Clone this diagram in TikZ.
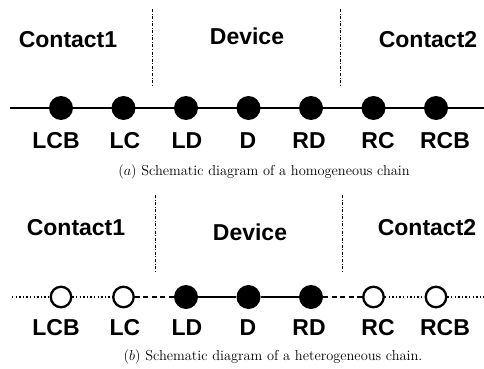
\documentclass[tikz,border=0pt]{standalone}
\usepackage{fontspec}
\setsansfont{Liberation Sans}
\begin{document}
\begin{tikzpicture}[x=1pt,y=-1pt,
  fullnode/.style={circle,fill=black,minimum size=24pt,inner sep=0pt},
  opennode/.style={circle,draw=black,fill=white,line width=2.3pt,minimum size=20.5pt,inner sep=0pt},
  lbl/.style={font=\sffamily\bfseries\fontsize{23}{27}\selectfont,inner sep=0pt},
  region/.style={font=\sffamily\bfseries\fontsize{23}{27}\selectfont,inner sep=0pt},
  captext/.style={font=\fontsize{14.4}{17}\selectfont,inner sep=0pt},
  bond/.style={line width=2.4pt},
  dashbond/.style={line width=2.4pt,dash pattern=on 5pt off 3.5pt},
  dotbond/.style={line width=1.4pt,dash pattern=on 1.4pt off 2.2pt},
  divider/.style={line width=0.9pt,dash pattern=on 3pt off 1.6pt on 0.9pt off 1.6pt}]
\useasboundingbox (0,0) rectangle (484,369);
% ---------- (a) homogeneous chain ----------
\coordinate (aL) at (10,108);
\coordinate (aR) at (484,108);
\draw[bond] (aL) -- (aR);
\foreach \n/\x in {1/61,2/123.5,3/186,4/248.5,5/311,6/373.5,7/436}
  \node[fullnode] (a\n) at (\x,108) {};
\coordinate (av1t) at (152,9); \coordinate (av1b) at (152,87);
\coordinate (av2t) at (340,9); \coordinate (av2b) at (340,87);
\draw[divider] (av1t) -- (av1b);
\draw[divider] (av2t) -- (av2b);
\node[region] (ac1) at (68,40) {Contact1};
\node[region] (adev) at (247,36) {Device};
\node[region] (ac2) at (428,40) {Contact2};
\node[lbl] (al1) at (56,141) {LCB};
\node[lbl] (al2) at (125,141) {LC};
\node[lbl] (al3) at (187,141) {LD};
\node[lbl] (al4) at (248,141) {D};
\node[lbl] (al5) at (309,141) {RD};
\node[lbl] (al6) at (378,141) {RC};
\node[lbl] (al7) at (445,141) {RCB};
\node[captext] (acap) at (264,172) {$(a)$ Schematic diagram of a homogeneous chain};
% ---------- (b) heterogeneous chain ----------
\node[opennode] (b1) at (61,297) {};
\node[opennode] (b2) at (123.5,297) {};
\node[fullnode] (b3) at (186,297) {};
\node[fullnode] (b4) at (248.5,297) {};
\node[fullnode] (b5) at (311,297) {};
\node[opennode] (b6) at (373.5,297) {};
\node[opennode] (b7) at (436,297) {};
\coordinate (bL) at (12,297);
\coordinate (bR) at (484,297);
\draw[dotbond] (bL) -- (b1);
\draw[dotbond] (b1) -- (b2);
\draw[dashbond] (b2) -- (b3);
\draw[bond] (b3) -- (b4);
\draw[bond] (b4) -- (b5);
\draw[dashbond] (b5) -- (b6);
\draw[dotbond] (b6) -- (b7);
\draw[dotbond] (b7) -- (bR);
\coordinate (bv1t) at (155,195); \coordinate (bv1b) at (155,273);
\coordinate (bv2t) at (342,195); \coordinate (bv2b) at (342,273);
\draw[divider] (bv1t) -- (bv1b);
\draw[divider] (bv2t) -- (bv2b);
\node[region] (bc1) at (76,228) {Contact1};
\node[region] (bdev) at (250,232) {Device};
\node[region] (bc2) at (427,228) {Contact2};
\node[lbl] (bl1) at (56,328) {LCB};
\node[lbl] (bl2) at (125,328) {LC};
\node[lbl] (bl3) at (187,328) {LD};
\node[lbl] (bl4) at (248,328) {D};
\node[lbl] (bl5) at (309,328) {RD};
\node[lbl] (bl6) at (378,328) {RC};
\node[lbl] (bl7) at (445,328) {RCB};
\node[captext] (bcap) at (273,357) {$(b)$ Schematic diagram of a heterogeneous chain.};
\end{tikzpicture}
\end{document}
